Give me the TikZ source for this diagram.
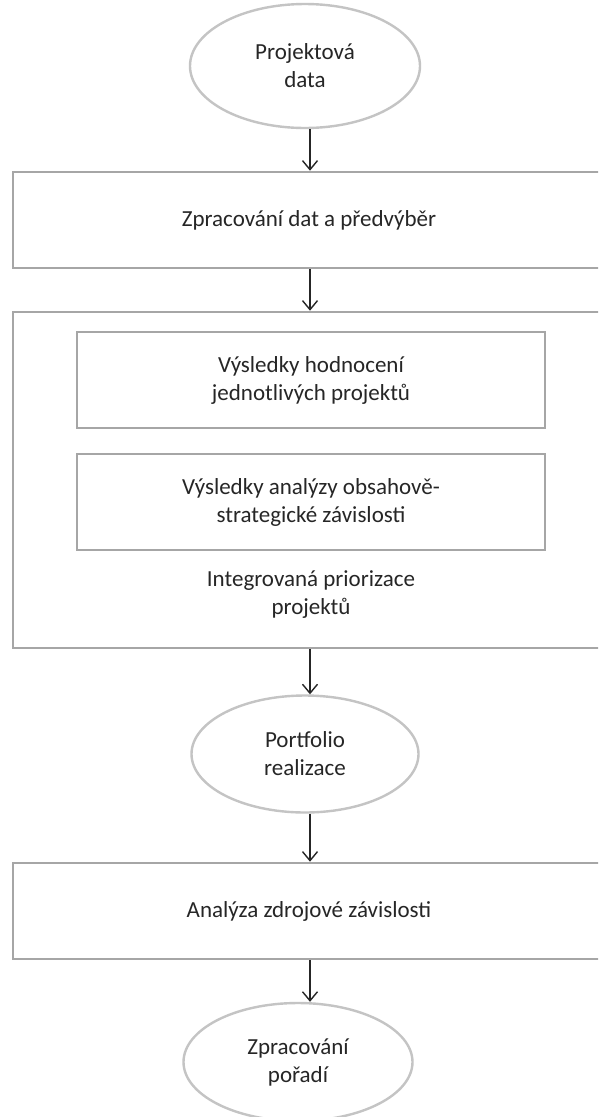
\documentclass[tikz,border=0pt]{standalone}
\usepackage{fontspec}
\setmainfont{Carlito}
\usetikzlibrary{arrows.meta,shapes.geometric}
\definecolor{boxline}{HTML}{A6A6A6}
\definecolor{ovalline}{HTML}{C4C4C4}
\definecolor{ink}{HTML}{262626}
\tikzset{
  every node/.style={text=ink, font=\fontsize{23}{28}\selectfont, align=center, inner sep=0pt},
  stepbox/.style={draw=boxline, line width=2.6pt, rectangle, fill=white},
  oval/.style={draw=ovalline, line width=2.4pt, ellipse, fill=white},
  flow/.style={draw=ink, line width=1.4pt, -{Straight Barb[length=9pt,width=15pt,line width=1.4pt]}}
}
\begin{document}
\begin{tikzpicture}[x=1pt,y=-1pt]
  \clip (0,0) rectangle (598,1117);
  \fill[white] (0,0) rectangle (598,1117);

  % shared vertical axis of the connectors
  \coordinate (axis) at (310,0);

  % start
  \node[oval, minimum width=230pt, minimum height=124pt] (src) at (305,66) {Projektová\\data};

  % preprocessing
  \node[stepbox, minimum width=592pt, minimum height=96pt] (prep) at (309,220) {Zpracování dat a předvýběr};

  % integrated prioritisation block
  \node[stepbox, minimum width=592pt, minimum height=336pt] (integ) at (309,480) {};
  \node[stepbox, minimum width=468pt, minimum height=96pt] (eval) at (311,380) {Výsledky hodnocení\\jednotlivých projektů};
  \node[stepbox, minimum width=468pt, minimum height=96pt] (dep) at (311,502) {Výsledky analýzy obsahově-\\strategické závislosti};
  \node (integlabel) at (311,595) {Integrovaná priorizace\\projektů};

  % portfolio
  \node[oval, minimum width=227pt, minimum height=117pt] (port) at (305,754) {Portfolio\\realizace};

  % resource dependency
  \node[stepbox, minimum width=592pt, minimum height=96pt] (res) at (309,911) {Analýza zdrojové závislosti};

  % result
  \node[oval, minimum width=229pt, minimum height=118pt] (order) at (298,1062) {Zpracování\\pořadí};

  % connectors
  \draw[flow] (src.south -| axis) -- (prep.north -| axis);
  \draw[flow] (prep.south -| axis) -- (integ.north -| axis);
  \draw[flow] (integ.south -| axis) -- (port.north -| axis);
  \draw[flow] (port.south -| axis) -- (res.north -| axis);
  \draw[flow] (res.south -| axis) -- (order.north -| axis);
\end{tikzpicture}
\end{document}
